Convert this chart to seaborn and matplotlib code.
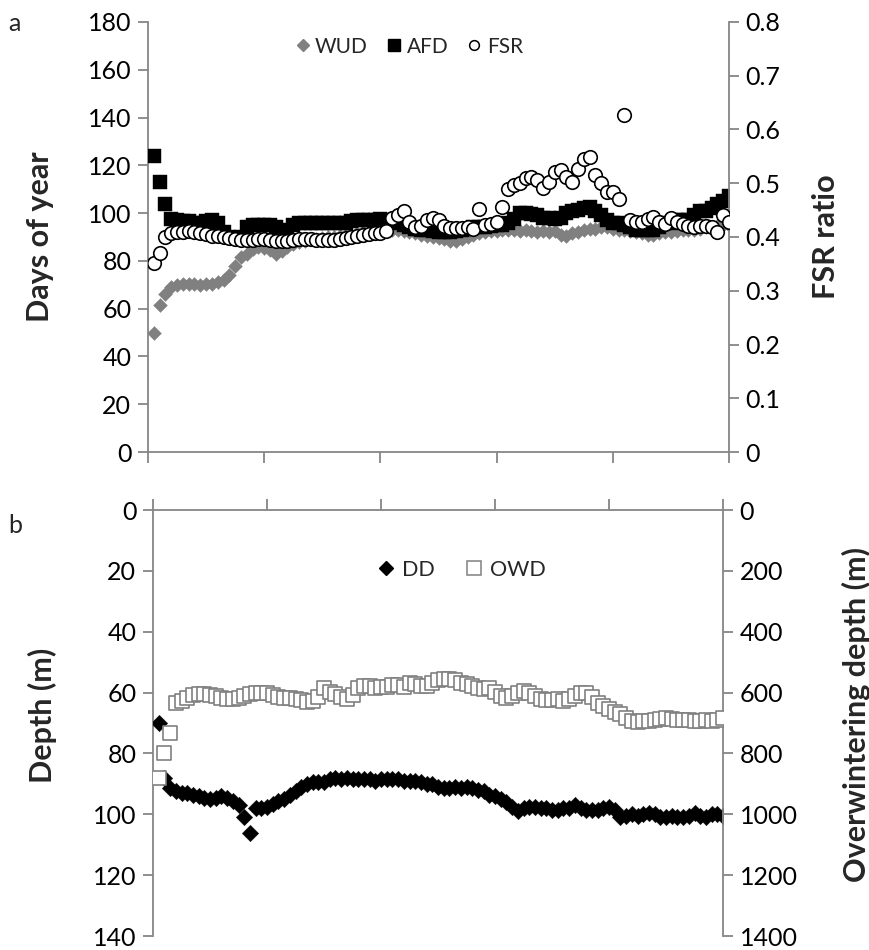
import matplotlib
matplotlib.use("Agg")
import matplotlib.pyplot as plt
from matplotlib.lines import Line2D
import seaborn as sns
import numpy as np
import pandas as pd

# ---------------- data ----------------
idx = list(range(1, 101))

wud = [50, 61.5, 66, 69, 70, 70.5, 70.5, 70.5, 70, 70.5,
       70.5, 71, 72, 74, 78, 81.5, 83, 85, 86, 85.5,
       84.5, 83, 84, 86, 87, 88, 88.5, 89, 89, 89.5,
       90, 90, 90.5, 91, 91, 91.5, 92, 92, 92.5, 93,
       93, 93, 93, 92.5, 92, 91.5, 91, 90.5, 90, 89.5,
       89, 88.5, 88.5, 89, 90, 91, 91.5, 92, 92.5, 92.5,
       93, 93, 93, 92.5, 93, 92.5, 92, 92.5, 92, 92.5,
       91, 90.5, 91.5, 92, 93, 93.5, 93.5, 94, 94, 93.5,
       93, 93, 92.5, 92, 91.5, 91, 91, 91.5, 92, 92,
       92.5, 93, 93, 93, 93.5, 94, 94, 94.5, 95, 95]

afd = [124, 113, 104, 97.5, 97, 96.5, 96.5, 96, 96, 96.5,
       97, 96, 92, 90, 89.5, 90, 94, 95, 95, 95,
       95, 94, 93, 92, 95, 96, 96, 96, 96, 96,
       96, 96, 96, 96, 96.5, 97, 97, 97, 97, 97.5,
       97, 96.5, 96, 95, 94, 93.5, 93, 93, 92.5, 92,
       92, 92, 92.5, 93, 93.5, 94, 94, 94, 94.5, 95,
       95, 96, 97.5, 100, 100, 99.5, 99, 98, 98, 97.5,
       98, 100, 101, 101.5, 102, 102.5, 101, 99, 97, 96,
       96, 95, 94, 93, 93, 93, 93, 94, 96, 96,
       97, 97, 97, 99, 101, 101, 102, 104, 105, 107]

fsr = [0.352, 0.371, 0.400, 0.407, 0.409, 0.410, 0.412, 0.410, 0.408, 0.405,
       0.402, 0.401, 0.400, 0.398, 0.396, 0.394, 0.394, 0.395, 0.396, 0.396,
       0.394, 0.392, 0.392, 0.392, 0.394, 0.396, 0.396, 0.396, 0.394, 0.394,
       0.394, 0.395, 0.396, 0.398, 0.400, 0.402, 0.404, 0.406, 0.407, 0.408,
       0.412, 0.435, 0.441, 0.449, 0.428, 0.419, 0.420, 0.432, 0.435, 0.432,
       0.420, 0.417, 0.417, 0.417, 0.419, 0.414, 0.453, 0.422, 0.425, 0.427,
       0.455, 0.489, 0.497, 0.500, 0.509, 0.512, 0.506, 0.491, 0.503, 0.520,
       0.525, 0.512, 0.503, 0.526, 0.546, 0.548, 0.515, 0.500, 0.484, 0.484,
       0.471, 0.627, 0.432, 0.428, 0.427, 0.433, 0.437, 0.428, 0.425, 0.435,
       0.427, 0.424, 0.420, 0.419, 0.420, 0.420, 0.419, 0.410, 0.441, 0.427]

dd = [70, 88, 91.5, 92.5, 93, 93, 93.5, 94, 94.5, 95,
      94.5, 94, 94.5, 95.5, 97, 101, 106, 98, 98, 97.5,
      96.5, 95.5, 95, 93.5, 92.5, 91, 90, 89.5, 89.5, 89.5,
      88.5, 88, 88.5, 88, 88.5, 88.5, 88.5, 88.5, 89, 88.5,
      88.5, 88.5, 88.5, 89, 89, 89, 89.5, 90, 90, 91,
      91.5, 91.5, 91, 91.5, 91, 91.5, 92, 92.5, 93.5, 94,
      95, 96, 97.5, 99, 98, 97.5, 97.5, 98, 98, 98.5,
      98.5, 98, 98, 97, 98, 98.5, 98.5, 98.5, 98, 97.5,
      98.5, 101, 100.5, 100, 100.5, 100, 99.5, 100, 101, 101,
      100.5, 101, 101, 100.5, 99.5, 100.5, 101, 100, 100, 100.5]

owd = [880, 798, 733, 635, 628, 617, 608, 606, 606, 608,
       612, 617, 622, 621, 617, 610, 606, 602, 602, 602,
       608, 613, 617, 619, 621, 624, 632, 628, 613, 586,
       597, 606, 613, 621, 608, 586, 579, 578, 584, 581,
       581, 575, 575, 581, 570, 572, 578, 578, 568, 560,
       554, 554, 560, 568, 573, 580, 585, 588, 586, 598,
       610, 618, 612, 602, 595, 600, 612, 622, 624, 624,
       621, 627, 622, 610, 602, 603, 615, 633, 644, 654,
       663, 672, 685, 695, 697, 695, 694, 691, 687, 684,
       686, 690, 690, 690, 692, 694, 690, 693, 690, 684]

left_ticks_a = list(range(0, 181, 20))
right_ticks_a = [0, 0.1, 0.2, 0.3, 0.4, 0.5, 0.6, 0.7, 0.8]
left_ticks_b = list(range(0, 141, 20))
right_ticks_b = list(range(0, 1401, 200))

df_a = pd.DataFrame({"x": idx, "WUD": wud, "AFD": afd, "FSR": fsr})
df_b = pd.DataFrame({"x": idx, "DD": dd, "OWD": owd})

# ---------------- style ----------------
sns.set_style("white")
plt.rcParams["font.family"] = ["Lato", "DejaVu Sans"]

SPINE = "#868686"
GRAY = "#808080"
FS = 18
LFS = 22
W, H = 869, 950

fig = plt.figure(figsize=(8.69, 9.5), dpi=100)

ax1 = fig.add_axes([148 / W, 1 - 452 / H, 581 / W, 430 / H])
ax1r = ax1.twinx()
ax2 = fig.add_axes([153 / W, 1 - 936 / H, 570 / W, 426 / H])
ax2r = ax2.twinx()


def style_axes(ax, axr, top_axis):
    for a in (ax, axr):
        for s in a.spines.values():
            s.set_color(SPINE)
            s.set_linewidth(1.3)
        a.set_facecolor("none")
        a.set_xlabel("")
        a.set_ylabel("")
    hide = "bottom" if top_axis else "top"
    ax.spines[hide].set_visible(False)
    ax.spines["right"].set_visible(False)
    axr.spines["left"].set_visible(False)
    axr.spines["top"].set_visible(False)
    axr.spines["bottom"].set_visible(False)
    ax.tick_params(axis="y", direction="out", length=7, width=1.3,
                   color=SPINE, labelsize=FS, labelcolor="black", pad=5, left=True)
    axr.tick_params(axis="y", direction="out", length=7, width=1.3,
                    color=SPINE, labelsize=FS, labelcolor="black", pad=5, right=True)
    axr.tick_params(axis="x", which="both", bottom=False, top=False,
                    labelbottom=False, labeltop=False)
    ax.set_xlim(0, 100)
    ax.set_xticks([0, 20, 40, 60, 80, 100])
    if top_axis:
        ax.xaxis.tick_top()
    else:
        ax.xaxis.tick_bottom()
    ax.tick_params(axis="x", direction="out", length=8, width=1.3, color=SPINE,
                   labelbottom=False, labeltop=False)


# ---------------- panel a ----------------
sns.scatterplot(data=df_a, x="x", y="WUD", marker="D", s=50, color=GRAY,
                edgecolor=GRAY, linewidth=0.3, ax=ax1, legend=False, zorder=3)
sns.scatterplot(data=df_a, x="x", y="AFD", marker="s", s=90, color="black",
                edgecolor="black", linewidth=0.3, ax=ax1, legend=False, zorder=4)
sns.scatterplot(data=df_a, x="x", y="FSR", marker="o", s=95, color="white",
                edgecolor="black", linewidth=1.2, ax=ax1r, legend=False, zorder=5)

ax1.set_ylim(0, 180)
ax1.set_yticks(left_ticks_a)
ax1r.set_ylim(0, 0.8)
ax1r.set_yticks(right_ticks_a)
ax1r.set_yticklabels(["0"] + [f"{v:.1f}" for v in right_ticks_a[1:]])
style_axes(ax1, ax1r, top_axis=False)

h_a = [Line2D([], [], ls="none", marker="D", ms=6.5, mfc=GRAY, mec=GRAY),
       Line2D([], [], ls="none", marker="s", ms=9, mfc="black", mec="black"),
       Line2D([], [], ls="none", marker="o", ms=7, mfc="white", mec="black", mew=1.1)]
fig.legend(h_a, ["WUD", "AFD", "FSR"], loc="center", bbox_to_anchor=(0.469, 0.951),
           ncol=3, frameon=False, fontsize=15, handletextpad=0.1,
           columnspacing=0.75, handlelength=1.0)

# ---------------- panel b ----------------
sns.scatterplot(data=df_b, x="x", y="DD", marker="D", s=70, color="black",
                edgecolor="black", linewidth=0.3, ax=ax2, legend=False, zorder=3)
sns.scatterplot(data=df_b, x="x", y="OWD", marker="s", s=90, color="white",
                edgecolor=GRAY, linewidth=1.2, ax=ax2r, legend=False, zorder=4)

ax2.set_ylim(140, 0)
ax2.set_yticks(left_ticks_b)
ax2r.set_ylim(1400, 0)
ax2r.set_yticks(right_ticks_b)
style_axes(ax2, ax2r, top_axis=True)

h_b = [Line2D([], [], ls="none", marker="D", ms=7, mfc="black", mec="black"),
       Line2D([], [], ls="none", marker="s", ms=10, mfc="white", mec=GRAY, mew=1.1)]
fig.legend(h_b, ["DD", "OWD"], loc="center", bbox_to_anchor=(0.53, 0.400),
           ncol=2, frameon=False, fontsize=15.5, handletextpad=0.25,
           columnspacing=1.3, handlelength=1.0)

# axis titles as figure text (centred at the reference positions)
def ylab(x, y, s):
    fig.text(x / W, 1 - y / H, s, rotation=90, ha="center", va="center",
             fontsize=LFS, fontweight="bold")

ylab(40, 237, "Days of year")
ylab(826, 237, "FSR ratio")
ylab(42, 715, "Depth (m)")
ylab(856, 715, "Overwintering depth (m)")

fig.text(0.009, 0.975, "a", fontsize=FS, va="center", ha="left")
fig.text(0.009, 0.447, "b", fontsize=FS, va="center", ha="left")

fig.savefig("out.png", dpi=100)
